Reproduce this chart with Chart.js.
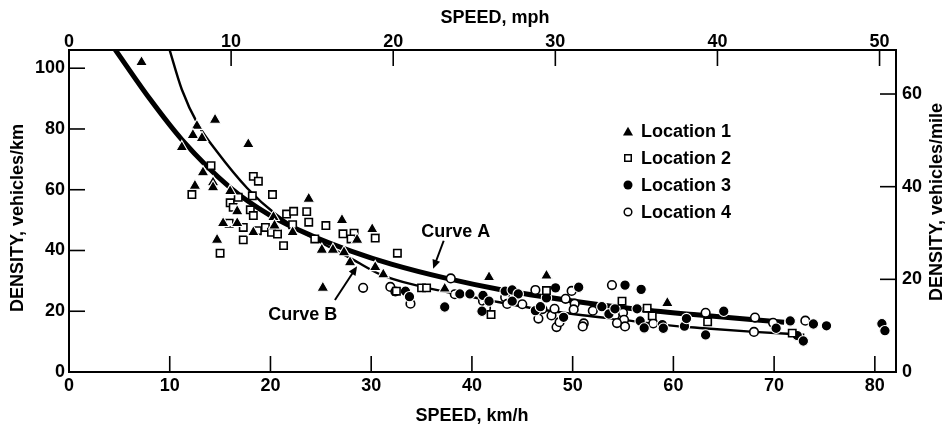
<!DOCTYPE html>
<html><head><meta charset="utf-8">
<script src="https://cdn.jsdelivr.net/npm/chart.js@4.4.1/dist/chart.umd.min.js"></script>
<style>html,body{margin:0;padding:0;background:#fff}</style>
</head><body>
<canvas id="c" width="950" height="430" style="width:950px;height:430px;display:block"></canvas>
<script>
// ---------- tick labels ----------
const kmhTicks = [0, 10, 20, 30, 40, 50, 60, 70, 80];
const mphTicks = [0, 10, 20, 30, 40, 50];
const densKmTicks = [0, 20, 40, 60, 80, 100];
const densMileTicks = [0, 20, 40, 60];
const KMH_PER_MPH = 1.609344;
const X_MAX = 82.1, Y_MAX = 106, Y2_MAX = 69.5;

// ---------- series ----------
const seriesNames = ['Location 1', 'Location 2', 'Location 3', 'Location 4'];

const loc1Speed   = [7.2,12.7,14.5,12.3,13.2,11.2,17.8,13.3,12.5,14.3,14.3,16.0,16.7,23.8,20.3,14.7,15.3,16.7,18.3,20.4,22.2,27.1,30.1,28.6,25.1,26.2,27.3,27.9,30.4,31.2,25.2,37.3,41.7,47.4,59.4];
const loc1Density = [102,81,83,78,77,74,75,65.7,61.3,62.4,60.8,59.5,52.9,57,51,43.5,49,49,46,48.2,46,50,47,43.5,40.2,40.2,39.4,36.1,34.5,32.1,27.7,27.4,31.2,31.7,22.7];

const loc2Speed   = [12.2,14.1,15.0,15.9,16.0,16.3,16.8,17.3,17.3,18.0,18.2,18.3,18.3,18.7,18.8,19.5,20.1,20.2,20.7,21.3,21.6,22.2,22.3,23.6,23.8,24.4,25.5,27.2,28.3,28.0,30.4,32.6,32.5,35.0,35.5,41.9,47.4,54.9,57.4,57.9,63.4,71.8];
const loc2Density = [58.4,67.9,39.1,49.0,55.7,54.2,57.5,47.6,43.5,53.4,58.0,64.4,51.5,46.5,62.8,47.6,46.0,58.4,45.4,41.6,52.0,48.5,52.9,52.8,49.3,43.8,48.2,45.5,45.7,43.8,44.1,39.1,26.6,27.7,27.7,18.9,26.8,23.3,21.0,18.5,16.5,12.8];

const loc3Speed   = [33.4,33.8,37.3,38.8,39.8,41.1,41.7,41.0,43.3,44.0,44.6,44.0,46.3,46.8,47.4,48.3,49.1,50.6,52.9,53.6,54.2,55.2,56.8,56.4,56.7,57.1,58.9,59.0,61.1,61.3,63.2,65.0,70.2,71.6,72.3,72.9,73.9,75.2,80.7,81.0];
const loc3Density = [26.6,24.8,21.4,25.7,25.7,25.2,23.3,20.0,26.6,27.0,25.7,23.3,20.2,21.5,24.4,27.7,18.0,27.9,21.5,19.1,20.8,28.6,27.2,20.8,16.8,14.5,15.6,14.4,15.1,17.6,12.2,20.0,14.4,16.8,12.0,10.2,15.8,15.2,15.9,13.6];

const loc4Speed   = [29.2,31.9,32.4,33.9,37.9,38.3,41.1,41.4,43.3,43.5,45.0,46.3,46.6,47.0,47.9,48.2,48.4,48.7,49.3,49.9,50.2,50.1,51.1,51.0,52.0,53.9,54.2,55.0,55.1,55.2,54.4,58.0,63.2,68.1,68.0,69.9,73.1];
const loc4Density = [27.7,28.0,26.5,22.5,30.8,25.6,23.4,21.1,24.6,22.4,22.3,27.0,17.6,20.7,18.6,20.8,14.8,16.4,24.1,26.7,22.5,20.6,16.0,15.0,20.2,28.6,18.8,19.5,17.2,15.0,16.1,16.0,19.5,17.9,13.2,16.2,16.9];

const curveASpeed   = [4.4,8.0,11.2,16.0,20.0,24.0,28.0,32.0,37.5,43.0,50.0,56.0,62.0,71.0];
const curveADensity = [107,90,76.5,60.7,51.5,45.0,39.8,35.5,30.8,27.0,23.4,20.8,18.9,16.4];

const curveBSpeed   = [9.9,11.2,12.8,14.7,17.7,20.5,24.0,28.2,31.0,34.5,38.0,42.0,46.0,51.0,55.4,59.0,63.0,68.0,73.0];
const curveBDensity = [107,93,81.5,72.5,60.5,52.0,44.5,37.0,32.0,28.5,26.0,23.4,21.0,18.7,17.0,15.5,14.4,13.2,12.3];

const zip = (xs, ys) => xs.map((x, i) => ({x: x, y: ys[i]}));

const FONT = "'Liberation Sans', Arial, Helvetica, sans-serif";
const tickFont = {family: FONT, size: 18, weight: 'bold'};

// ---------- decorations: inward ticks, axis titles, legend, curve labels ----------
function drawMarker(ctx, style, x, y, r, fill, stroke, lw) {
  ctx.beginPath();
  if (style === 'triangle') {
    for (let i = 0; i < 3; i++) {
      const a = i * 2 * Math.PI / 3;
      const px = x + Math.sin(a) * r, py = y - Math.cos(a) * r;
      if (i) ctx.lineTo(px, py); else ctx.moveTo(px, py);
    }
    ctx.closePath();
  } else if (style === 'rect') {
    const s = r * Math.SQRT1_2;
    ctx.rect(x - s, y - s, 2 * s, 2 * s);
  } else {
    ctx.arc(x, y, r, 0, Math.PI * 2);
  }
  ctx.fillStyle = fill; ctx.fill();
  if (lw) { ctx.lineWidth = lw; ctx.strokeStyle = stroke; ctx.stroke(); }
}

function arrow(ctx, x1, y1, x2, y2) {
  const ang = Math.atan2(y2 - y1, x2 - x1), hl = 9, hw = 4;
  ctx.beginPath(); ctx.moveTo(x1, y1);
  ctx.lineTo(x2 - Math.cos(ang) * hl * 0.8, y2 - Math.sin(ang) * hl * 0.8); ctx.stroke();
  ctx.beginPath(); ctx.moveTo(x2, y2);
  ctx.lineTo(x2 - Math.cos(ang) * hl + Math.sin(ang) * hw, y2 - Math.sin(ang) * hl - Math.cos(ang) * hw);
  ctx.lineTo(x2 - Math.cos(ang) * hl - Math.sin(ang) * hw, y2 - Math.sin(ang) * hl + Math.cos(ang) * hw);
  ctx.closePath(); ctx.fill();
}

const decor = {
  id: 'decor',
  beforeDatasetsDraw(chart) {
    const {ctx, chartArea: a, scales} = chart;
    const L = 16;
    ctx.save();
    ctx.strokeStyle = '#000'; ctx.lineWidth = 1.6;
    const seg = (x1, y1, x2, y2) => { ctx.beginPath(); ctx.moveTo(x1, y1); ctx.lineTo(x2, y2); ctx.stroke(); };
    scales.x.ticks.forEach(t => { if (t.value) { const p = scales.x.getPixelForValue(t.value); seg(p, a.bottom, p, a.bottom - L); } });
    scales.x2.ticks.forEach(t => { if (t.value) { const p = scales.x2.getPixelForValue(t.value); seg(p, a.top, p, a.top + L); } });
    scales.y.ticks.forEach(t => { if (t.value) { const p = scales.y.getPixelForValue(t.value); seg(a.left, p, a.left + L, p); } });
    scales.y2.ticks.forEach(t => { if (t.value) { const p = scales.y2.getPixelForValue(t.value); seg(a.right, p, a.right - L, p); } });
    ctx.restore();
  },
  afterDraw(chart) {
    const {ctx, chartArea: a, scales} = chart;
    const X = v => scales.x.getPixelForValue(v), Y = v => scales.y.getPixelForValue(v);
    ctx.save();
    ctx.fillStyle = '#000'; ctx.strokeStyle = '#000';
    ctx.font = 'bold 18px ' + FONT;
    ctx.textAlign = 'center'; ctx.textBaseline = 'middle';
    // axis titles
    ctx.fillText('SPEED, mph', 495, 18);
    ctx.fillText('SPEED, km/h', 472, 416);
    ctx.save(); ctx.translate(18, 218); ctx.rotate(-Math.PI / 2); ctx.fillText('DENSITY, vehicles/km', 0, 0); ctx.restore();
    ctx.save(); ctx.translate(937, 202); ctx.rotate(-Math.PI / 2); ctx.fillText('DENSITY, vehicles/mile', 0, 0); ctx.restore();

    // legend
    ctx.textAlign = 'left';
    const lx = 628, ly = [131, 158, 185, 212];
    chart.data.datasets.slice(0, 4).forEach((d, i) => {
      const y = ly[i];
      const isOpen = d.backgroundColor === '#fff';
      const r = d.pointStyle === 'triangle' ? 5.8 : (d.pointStyle === 'rect' ? 4.6 : (isOpen ? 3.8 : 4.5));
      drawMarker(ctx, d.pointStyle, lx, d.pointStyle === 'triangle' ? y + 1.5 : y, r, d.backgroundColor, '#000', isOpen ? 1.5 : 0);
      ctx.fillStyle = '#000';
      ctx.fillText(d.label, 641, y + 1);
    });

    // curve labels and arrows
    ctx.textAlign = 'center';
    ctx.fillText('Curve A', X(38.4), Y(46.2));
    ctx.fillText('Curve B', X(23.2), Y(18.8));
    ctx.lineWidth = 2;
    arrow(ctx, X(37.2), Y(43.2), X(36.15), Y(34.0));
    arrow(ctx, X(26.4), Y(23.7), X(28.6), Y(34.8));
    ctx.restore();
  }
};

const filled = (label, style, r, xs, ys) => ({
  label, data: zip(xs, ys), pointStyle: style, pointRadius: r, pointHoverRadius: r,
  backgroundColor: '#000', borderColor: '#fff', pointBorderWidth: 1.1, showLine: false
});
const open = (label, style, r, xs, ys) => ({
  label, data: zip(xs, ys), pointStyle: style, pointRadius: r, pointHoverRadius: r,
  backgroundColor: '#fff', borderColor: '#000', pointBorderWidth: 1.6, showLine: false
});

new Chart(document.getElementById('c'), {
  type: 'scatter',
  data: {
    datasets: [
      filled(seriesNames[0], 'triangle', 6.8, loc1Speed, loc1Density),
      open(seriesNames[1], 'rect', 5.2, loc2Speed, loc2Density),
      filled(seriesNames[2], 'circle', 5.2, loc3Speed, loc3Density),
      open(seriesNames[3], 'circle', 4.3, loc4Speed, loc4Density),
      {label: 'Curve A', data: zip(curveASpeed, curveADensity), showLine: true, pointRadius: 0,
       borderColor: '#000', borderWidth: 5, cubicInterpolationMode: 'monotone', clip: 0},
      {label: 'Curve B', data: zip(curveBSpeed, curveBDensity), showLine: true, pointRadius: 0,
       borderColor: '#000', borderWidth: 2.4, cubicInterpolationMode: 'monotone', clip: 0}
    ]
  },
  options: {
    responsive: false, animation: false, events: [], devicePixelRatio: 1,
    layout: {padding: 0},
    plugins: {legend: {display: false}, tooltip: {enabled: false}, title: {display: false}},
    scales: {
      x: {
        type: 'linear', position: 'bottom', min: 0, max: X_MAX,
        afterBuildTicks: s => { s.ticks = kmhTicks.map(v => ({value: v})); },
        afterFit: s => { s.height = 58; },
        ticks: {font: tickFont, color: '#000', padding: 3, maxRotation: 0},
        grid: {display: false, drawTicks: false},
        border: {display: true, color: '#000', width: 2}
      },
      x2: {
        type: 'linear', position: 'top', min: 0, max: X_MAX / KMH_PER_MPH,
        afterBuildTicks: s => { s.ticks = mphTicks.map(v => ({value: v})); },
        afterFit: s => { s.height = 50; },
        ticks: {font: tickFont, color: '#000', padding: -3, maxRotation: 0},
        grid: {display: false, drawTicks: false},
        border: {display: true, color: '#000', width: 2}
      },
      y: {
        type: 'linear', position: 'left', min: 0, max: Y_MAX,
        afterBuildTicks: s => { s.ticks = densKmTicks.map(v => ({value: v})); },
        afterFit: s => { s.width = 69; },
        ticks: {font: tickFont, color: '#000', padding: 4},
        grid: {display: false, drawTicks: false},
        border: {display: true, color: '#000', width: 2}
      },
      y2: {
        type: 'linear', position: 'right', min: 0, max: Y2_MAX,
        afterBuildTicks: s => { s.ticks = densMileTicks.map(v => ({value: v})); },
        afterFit: s => { s.width = 54; },
        ticks: {font: tickFont, color: '#000', padding: 6},
        grid: {display: false, drawTicks: false},
        border: {display: true, color: '#000', width: 2}
      }
    }
  },
  plugins: [decor]
});
</script>
</body></html>
